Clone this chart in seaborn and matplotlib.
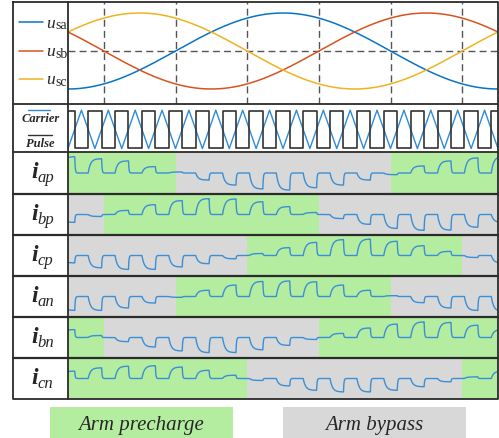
import numpy as np
import pandas as pd
import matplotlib
matplotlib.use("Agg")
import matplotlib.pyplot as plt
from matplotlib.patches import Rectangle
import seaborn as sns

sns.set_theme(style="white")
plt.rcParams['font.family'] = ['Liberation Serif', 'DejaVu Serif']

# ---------------- data ----------------
theta_range = [-90, 270]                 # electrical angle shown (deg)
phase_names = ["sa", "sb", "sc"]
phase_shift = [0, -120, 120]             # deg
sector_lines = [-60, 0, 60, 120, 180, 240]
carrier_ratio = 16                       # carrier periods per fundamental period

row_names = ["ap", "bp", "cp", "an", "bn", "cn"]
# pulse heights per carrier period (+ = up, - = down)
amp_ap = [0.97, 0.85, 0.72, 0.38, 0.06, -0.42, -0.72, -0.95, -1.02, -0.88, -0.72, -0.42, -0.10, 0.42, 0.72, 0.90, 0.97]
amp_bp = [-0.48, -0.12, 0.25, 0.60, 0.85, 0.97, 0.95, 0.78, 0.48, 0.12, -0.25, -0.60, -0.85, -0.97, -0.95, -0.78, -0.48]
amp_cp = [-0.45, -0.75, -0.85, -0.85, -0.70, -0.50, -0.20, 0.12, 0.48, 0.80, 0.97, 1.00, 0.87, 0.60, 0.25, -0.12, -0.45]
amp_an = [-0.85, -0.85, -0.70, -0.40, -0.05, 0.38, 0.70, 0.92, 0.95, 0.90, 0.70, 0.38, 0.05, -0.38, -0.70, -0.85, -0.90]
amp_bn = [0.48, 0.12, -0.25, -0.58, -0.82, -0.92, -0.92, -0.75, -0.48, -0.12, 0.25, 0.58, 0.82, 0.95, 0.92, 0.75, 0.48]
amp_cn = [0.45, 0.65, 0.75, 0.78, 0.70, 0.50, 0.20, -0.12, -0.45, -0.72, -0.82, -0.82, -0.72, -0.50, -0.20, 0.10, 0.45]
row_amps = [amp_ap, amp_bp, amp_cp, amp_an, amp_bn, amp_cn]

# state regions per row (P = arm precharge, B = arm bypass)
edges_ap, states_ap = [-90, 0, 180, 270], ["P", "B", "P"]
edges_bp, states_bp = [-90, -60, 120, 270], ["B", "P", "B"]
edges_cp, states_cp = [-90, 60, 240, 270], ["B", "P", "B"]
edges_an, states_an = [-90, 0, 180, 270], ["B", "P", "B"]
edges_bn, states_bn = [-90, -60, 120, 270], ["P", "B", "P"]
edges_cn, states_cn = [-90, 60, 240, 270], ["P", "B", "P"]
row_edges = [edges_ap, edges_bp, edges_cp, edges_an, edges_bn, edges_cn]
row_states = [states_ap, states_bp, states_cp, states_an, states_bn, states_cn]

legend_labels = ["Arm precharge", "Arm bypass"]

# ---------------- style ----------------
W, H = 499, 439
phase_colors = ["#0a74c4", "#d9531e", "#efb320"]
c_green = "#b4ed9f"
c_gray = "#d8d8d8"
c_cur = "#3b8fd6"
c_frame = "#2b2b2b"
X0, X1 = 68, 498
row_y = [153, 195, 236, 277, 318, 359, 400]

fig = plt.figure(figsize=(W / 100, H / 100), dpi=100)


def box(x0, y0, x1, y1):
    return [x0 / W, 1 - y1 / H, (x1 - x0) / W, (y1 - y0) / H]


def clean(ax):
    ax.set_xlim(*theta_range)
    ax.set_xticks([])
    ax.set_yticks([])
    for s in ax.spines.values():
        s.set_visible(False)
    ax.set_facecolor("white")


# ---- sine panel ----
ax_s = fig.add_axes(box(X0, 3, X1, 105))
theta = np.linspace(theta_range[0], theta_range[1], 721)
frames = []
for name, sh in zip(phase_names, phase_shift):
    frames.append(pd.DataFrame({"theta": theta,
                                "u": np.sin(np.deg2rad(theta + sh)),
                                "phase": name}))
df_s = pd.concat(frames, ignore_index=True)
sns.lineplot(data=df_s, x="theta", y="u", hue="phase", palette=phase_colors,
             ax=ax_s, legend=False, linewidth=1.1, estimator=None, sort=False)
for v in sector_lines:
    ax_s.axvline(v, color="#555555", lw=1.0, ls=(0, (5, 3)), zorder=0)
ax_s.axhline(0, color="#555555", lw=1.0, ls=(0, (5, 3)), zorder=0)
ax_s.set_ylim(-(105 - 52) / 38, (52 - 3) / 38)
clean(ax_s)
ax_s.set_xlabel("")
ax_s.set_ylabel("")

# ---- carrier / pulse panel ----
ax_c = fig.add_axes(box(X0, 105, X1, 153))
half = 360 / carrier_ratio / 2
n_half = carrier_ratio * 2
car_x = theta_range[0] + half * np.arange(n_half + 1)
car_y = np.array([0.0 if j % 2 == 0 else 1.0 for j in range(n_half + 1)])
sns.lineplot(x=car_x, y=car_y, ax=ax_c, color="#2e8bd8", linewidth=1.0,
             estimator=None, sort=False)
# pulse: high while carrier is below its mid level
sw = theta_range[0] + half / 2 + half * np.arange(n_half)
px, py = [theta_range[0]], [1.0]
level = 1.0
for s in sw:
    px += [s, s]
    py += [level, 1.0 - level]
    level = 1.0 - level
px.append(theta_range[1])
py.append(level)
sns.lineplot(x=np.array(px), y=np.array(py) * 0.97 + 0.02, ax=ax_c,
             color="#333333", linewidth=1.2, estimator=None, sort=False)
ax_c.set_ylim(-0.09, 1.16)
clean(ax_c)
ax_c.set_xlabel("")
ax_c.set_ylabel("")

# ---- current rows ----
dth = 0.05
tgrid = np.arange(theta_range[0] - half / 2, theta_range[1] + dth / 2, dth)
period = 360 / carrier_ratio
tau_on, tau_off = 2.0, 0.4
for i, (amps, edges, states) in enumerate(zip(row_amps, row_edges, row_states)):
    ax = fig.add_axes(box(X0, row_y[i], X1, row_y[i + 1]))
    for a, b, st in zip(edges[:-1], edges[1:], states):
        ax.axvspan(a, b, color=c_green if st == "P" else c_gray, lw=0, zorder=0)
    y = np.zeros_like(tgrid)
    val = 0.0
    for j, t in enumerate(tgrid):
        k = int(np.clip(np.round((t - theta_range[0]) / period), 0, len(amps) - 1))
        tk = theta_range[0] + k * period
        on = abs(t - tk) < half / 2
        target = amps[k] if on else 0.0
        tau = tau_on if on else tau_off
        val += (target - val) * (1 - np.exp(-dth / tau))
        y[j] = val
    m = tgrid >= theta_range[0]
    sns.lineplot(x=tgrid[m], y=y[m], ax=ax, color=c_cur, linewidth=1.0,
                 estimator=None, sort=False)
    ax.set_ylim(-1.25, 1.25)
    clean(ax)
    ax.set_xlabel("")
    ax.set_ylabel("")

# ---- overlay: frame, labels, legend ----
ov = fig.add_axes([0, 0, 1, 1])
ov.set_xlim(0, W)
ov.set_ylim(H, 0)
ov.axis("off")
ov.patch.set_alpha(0)

lw_f = 1.3
ov.plot([13, X1, X1, 13, 13], [3, 3, 400, 400, 3], color=c_frame, lw=lw_f)
ov.plot([X0, X0], [3, 400], color=c_frame, lw=lw_f)
for yy in [105] + row_y[:-1]:
    ov.plot([13, X1], [yy, yy], color=c_frame, lw=lw_f if yy <= 153 else 1.6)

# sine legend
for name, col, yy in zip(phase_names, phase_colors, [23.3, 51.7, 80.0]):
    ov.plot([19.5, 43.5], [yy, yy], color=col, lw=1.1)
    ov.text(46.5, yy + 4.5, "u", fontsize=12.5, style="italic", va="baseline", ha="left")
    ov.text(55.3, yy + 5.8, name, fontsize=10, va="baseline", ha="left")

# carrier / pulse labels
ov.plot([28, 50], [111, 111], color="#2e8bd8", lw=1.0)
ov.text(40.5, 122.5, "Carrier", fontsize=9, style="italic", weight="bold",
        ha="center", va="baseline")
ov.plot([28, 52], [136, 136], color="#333333", lw=1.0)
ov.text(40.5, 147.5, "Pulse", fontsize=9, style="italic", weight="bold",
        ha="center", va="baseline")

# row labels
for i, name in enumerate(row_names):
    top = row_y[i]
    ov.text(31, top + 25.5, "i", fontsize=17, style="italic", weight="bold",
            ha="left", va="baseline")
    ov.text(37.5, top + 29.5, name, fontsize=12, style="italic",
            ha="left", va="baseline")

# bottom legend boxes
ov.add_patch(Rectangle((50, 408), 183, 32, facecolor=c_green, edgecolor="none"))
ov.add_patch(Rectangle((283, 408), 183, 32, facecolor=c_gray, edgecolor="none"))
ov.text(141.5, 430, legend_labels[0], fontsize=15, style="italic",
        ha="center", va="baseline")
ov.text(374.5, 430, legend_labels[1], fontsize=15, style="italic",
        ha="center", va="baseline")

fig.savefig("out.png", dpi=100)
